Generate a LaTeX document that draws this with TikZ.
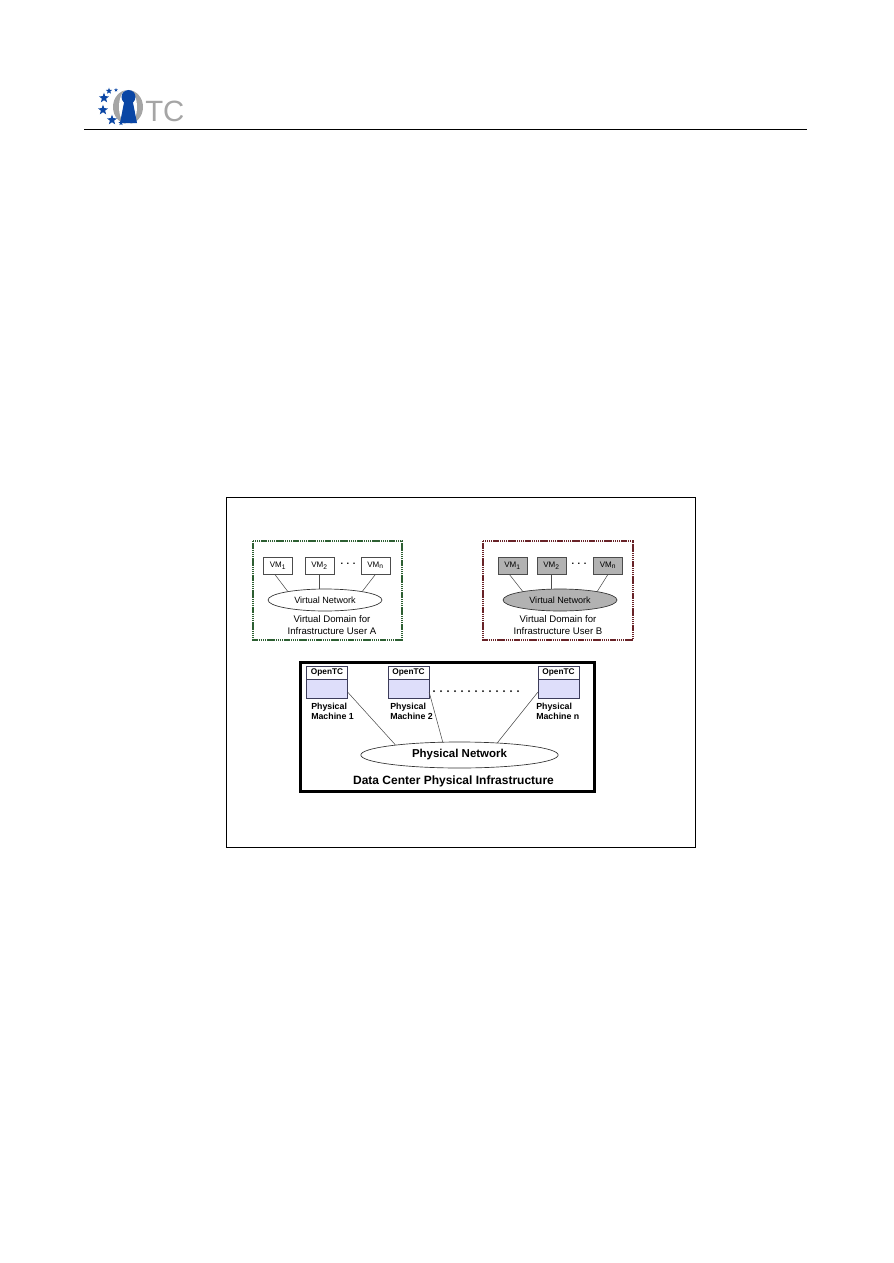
\documentclass[tikz,border=0pt]{standalone}
\usepackage{fontspec}
\setmainfont{Liberation Sans}
\usetikzlibrary{shapes.geometric}
\definecolor{domaingreen}{RGB}{45,95,50}
\definecolor{domainred}{RGB}{105,35,40}
\definecolor{pmfill}{RGB}{222,222,250}
\definecolor{pmline}{RGB}{60,60,90}
\definecolor{keyblue}{RGB}{10,70,165}
\definecolor{logogray}{RGB}{165,165,165}
\tikzset{
  vmbox/.style={draw=black!70,line width=0.5pt,minimum width=22pt,minimum height=12.75pt,inner sep=0pt,font=\fontsize{6}{6}\selectfont},
  vmgray/.style={vmbox,fill=black!30},
  netshape/.style={ellipse,draw=black!80,line width=0.5pt,inner sep=0pt,minimum width=85.5pt,minimum height=16.5pt,font=\fontsize{6.8}{8}\selectfont},
  domainframe/.style={line width=1.1pt,dash pattern={on 1.1pt off 0.5pt}},
  domaintext/.style={align=center,font=\fontsize{7.2}{8.6}\selectfont},
  pmhead/.style={draw=pmline,line width=0.5pt,minimum width=30.5pt,minimum height=9.75pt,inner sep=0pt,font=\bfseries\fontsize{6.2}{7}\selectfont},
  pmbody/.style={draw=pmline,fill=pmfill,line width=0.5pt,minimum width=30.5pt,minimum height=14.25pt,inner sep=0pt},
  pmtext/.style={align=left,anchor=north west,inner sep=0pt,font=\bfseries\fontsize{6.6}{7.6}\selectfont},
  logostar/.style={star,star points=5,star point ratio=2.4,fill=keyblue,inner sep=0pt,minimum size=#1}
}

\begin{document}
\begin{tikzpicture}[x=0.75pt,y=0.75pt,yscale=-1,xscale=1]
\useasboundingbox (0,0) rectangle (893,1263);

%Page header: logo
\fill [logogray] (128,107) ellipse [x radius=15,y radius=17];
\fill [white] (128,107) ellipse [x radius=9,y radius=17.5];
\fill [keyblue] (128.5,97) circle [radius=7];
\fill [keyblue] (124.5,100) -- (132.5,100) -- (137,123) -- (120,123) -- cycle;
\draw (104,98) node (stara) [logostar=8pt] {};
\draw (109,91) node (starb) [logostar=5pt] {};
\draw (116,90) node (starc) [logostar=3pt] {};
\draw (103,110) node (stard) [logostar=8pt] {};
\draw (112,120) node (stare) [logostar=8pt] {};
\draw (121,123) node (starf) [logostar=4pt] {};
\draw (145,122) node (logotext) [anchor=south west,inner sep=0pt,text=logogray,font=\fontsize{22}{22}\selectfont] {TC};
%Page header: rule
\coordinate (ruleleft) at (84,129);
\coordinate (ruleright) at (807,129);
\draw [line width=0.75pt] (ruleleft) -- (ruleright);

%Outer frame
\draw [line width=0.75pt] (226,497) rectangle (695,847.5);

%Domain A
\draw [domaingreen,domainframe] (253,541) rectangle (402,640);
\draw (278,565.5) node (vmAone) [vmbox] {VM\textsubscript{1}};
\draw (319.5,565.5) node (vmAtwo) [vmbox] {VM\textsubscript{2}};
\draw (375.5,565.5) node (vmAn) [vmbox] {VM\textsubscript{n}};
\draw (348,564) node (dotsA) [font=\bfseries\fontsize{7}{8}\selectfont] {. . .};
\draw (325,600) node (netA) [netshape] {Virtual Network};
\draw (332,625) node (labelA) [domaintext] {Virtual Domain for\\Infrastructure User A};
\draw [black!70] (vmAone.250) -- (netA.167);
\draw [black!70] (vmAtwo.south) -- (netA.north -| vmAtwo.south);
\draw [black!70] (vmAn.south) -- (netA.13);

%Domain B
\draw [domainred,domainframe] (483,541) rectangle (633,640);
\draw (512.5,565.5) node (vmBone) [vmgray] {VM\textsubscript{1}};
\draw (551.5,565.5) node (vmBtwo) [vmgray] {VM\textsubscript{2}};
\draw (608,565.5) node (vmBn) [vmgray] {VM\textsubscript{n}};
\draw (579,564) node (dotsB) [font=\bfseries\fontsize{7}{8}\selectfont] {. . .};
\draw (560,600) node (netB) [netshape,fill=black!30] {Virtual Network};
\draw (558,625) node (labelB) [domaintext] {Virtual Domain for\\Infrastructure User B};
\draw [black!70] (vmBone.250) -- (netB.167);
\draw [black!70] (vmBtwo.south) -- (netB.north -| vmBtwo.south);
\draw [black!70] (vmBn.south) -- (netB.13);

%Physical infrastructure
\draw [line width=2.25pt] (300,662) rectangle (594,791);
\draw (327,672.5) node (headone) [pmhead] {OpenTC};
\draw (327,688.5) node (pmone) [pmbody] {};
\draw (408.5,672.5) node (headtwo) [pmhead] {OpenTC};
\draw (408.5,688.5) node (pmtwo) [pmbody] {};
\draw (558.5,672.5) node (headn) [pmhead] {OpenTC};
\draw (558.5,688.5) node (pmn) [pmbody] {};
\draw (311,703) node (textone) [pmtext] {Physical\\Machine 1};
\draw (390,703) node (texttwo) [pmtext] {Physical\\Machine 2};
\draw (536,703) node (textn) [pmtext] {Physical\\Machine n};
\draw (459.5,755) node (physnet) [ellipse,draw=black!80,line width=0.5pt,inner sep=0pt,minimum width=148pt,minimum height=19.5pt,font=\bfseries\fontsize{8.6}{10}\selectfont] {Physical Network};
\draw (453.5,781) node (physlabel) [font=\bfseries\fontsize{9}{10}\selectfont] {Data Center Physical Infrastructure};
\draw [black!70] (pmone.-10) -- (physnet.171);
\draw [black!70] (pmtwo.-10) -- (physnet.142);
\draw [black!70] (pmn.190) -- (physnet.18);
%dots between the machines
\foreach \i in {0,...,12}
  \fill (434+7*\i,691) circle [radius=1];
\end{tikzpicture}
\end{document}
